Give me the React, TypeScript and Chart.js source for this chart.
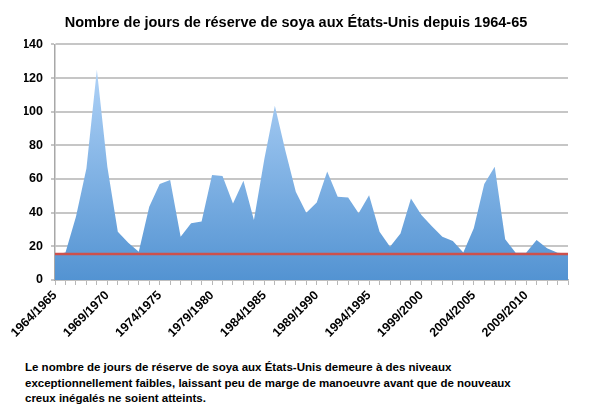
import React, { useEffect, useRef } from "react";
import { Chart, registerables } from "chart.js";

Chart.register(...registerables);

const startYears: number[] = [];
for (let y = 1964; y <= 2013; y++) startYears.push(y);
const seasons = startYears.map((y) => `${y}/${y + 1}`);

// jours de réserve
const daysOfStock = [
  15, 16.4, 37.6, 66.3, 125, 67.3, 28.7, 22.2, 16.8, 43.6,
  57, 59.4, 25.7, 33.7, 34.7, 62.4, 61.8, 45.5, 59, 35.6,
  72, 103.5, 77, 52.5, 40, 46, 64.4, 49.5, 49, 39.6,
  50.3, 28.7, 19.8, 27.7, 48.5, 38.6, 32, 25.7, 23.2, 16.4,
  30.7, 57, 67.3, 24.2, 16.2, 16.2, 23.8, 18.8, 16.2, 15.8,
];
const threshold = 15.5;
const yTicks = [0, 20, 40, 60, 80, 100, 120, 140];

const title = "Nombre de jours de réserve de soya aux États-Unis depuis 1964-65";
const caption = [
  "Le nombre de jours de réserve de soya aux États-Unis demeure à des niveaux",
  "exceptionnellement faibles, laissant peu de marge de manoeuvre avant que de nouveaux",
  "creux inégalés ne soient atteints.",
];

const FONT = "'Liberation Sans', Arial, sans-serif";

export default function App() {
  const canvasRef = useRef<HTMLCanvasElement | null>(null);

  useEffect(() => {
    if (!canvasRef.current) return;
    const chart = new Chart(canvasRef.current, {
      type: "line",
      data: {
        labels: seasons,
        datasets: [
          {
            label: "seuil",
            data: seasons.map(() => threshold),
            borderColor: "#cd504c",
            borderWidth: 2.5,
            pointRadius: 0,
            fill: false,
            order: 0,
          },
          {
            label: "jours",
            data: daysOfStock,
            borderWidth: 0,
            borderColor: "rgba(0,0,0,0)",
            pointRadius: 0,
            tension: 0,
            fill: "origin",
            order: 1,
            backgroundColor: (ctx: any) => {
              const c = ctx.chart;
              const area = c.chartArea;
              if (!area) return "#6aa3dc";
              const top = c.scales.y.getPixelForValue(Math.max(...daysOfStock));
              const g = c.ctx.createLinearGradient(0, top, 0, area.bottom);
              g.addColorStop(0, "#afd2f7");
              g.addColorStop(1, "#5393d2");
              return g;
            },
          },
        ],
      },
      options: {
        animation: false,
        responsive: true,
        maintainAspectRatio: false,
        layout: { padding: { left: 24, right: 23, top: 0, bottom: 0 } },
        plugins: {
          legend: { display: false },
          tooltip: { enabled: false },
          title: {
            display: true,
            text: title,
            color: "#000",
            font: { family: FONT, size: 14.5, weight: "bold" },
            padding: { top: 14, bottom: 13 },
          },
        },
        scales: {
          x: {
            type: "category",
            offset: false,
            afterFit: (s: any) => {
              s.height = 65;
            },
            grid: {
              drawOnChartArea: false,
              drawTicks: true,
              tickLength: 5,
              color: "#b8b8b8",
            },
            border: { color: "#b8b8b8", width: 1.5 },
            ticks: {
              autoSkip: false,
              maxRotation: 45,
              minRotation: 45,
              color: "#000",
              padding: 3,
              font: { family: FONT, size: 12.5, weight: "bold" },
              callback: (_v: any, i: number) => (i % 5 === 0 ? seasons[i] : ""),
            },
          },
          y: {
            min: 0,
            max: 140,
            afterFit: (s: any) => {
              s.width = 31;
            },
            afterBuildTicks: (s: any) => {
              s.ticks = yTicks.map((v) => ({ value: v }));
            },
            grid: {
              color: "#c6c6c6",
              lineWidth: 2,
              tickLength: 4,
            },
            border: { color: "#a8a8a8", width: 1.5 },
            ticks: {
              color: "#000",
              padding: 8,
              font: { family: FONT, size: 12.5, weight: "bold" },
            },
          },
        },
      },
    });
    return () => chart.destroy();
  }, []);

  return (
    <div
      style={{
        position: "absolute",
        left: 0,
        top: 0,
        width: 591,
        height: 412,
        background: "#fff",
      }}
    >
      <div style={{ position: "absolute", left: 0, top: 0, width: 591, height: 345 }}>
        <canvas ref={canvasRef} />
      </div>
      <div
        style={{
          position: "absolute",
          left: 25,
          top: 360,
          fontFamily: FONT,
          fontWeight: "bold",
          fontSize: 11.5,
          lineHeight: "15.7px",
          color: "#000",
          whiteSpace: "nowrap",
        }}
      >
        {caption.map((line, i) => (
          <div key={i}>{line}</div>
        ))}
      </div>
    </div>
  );
}
